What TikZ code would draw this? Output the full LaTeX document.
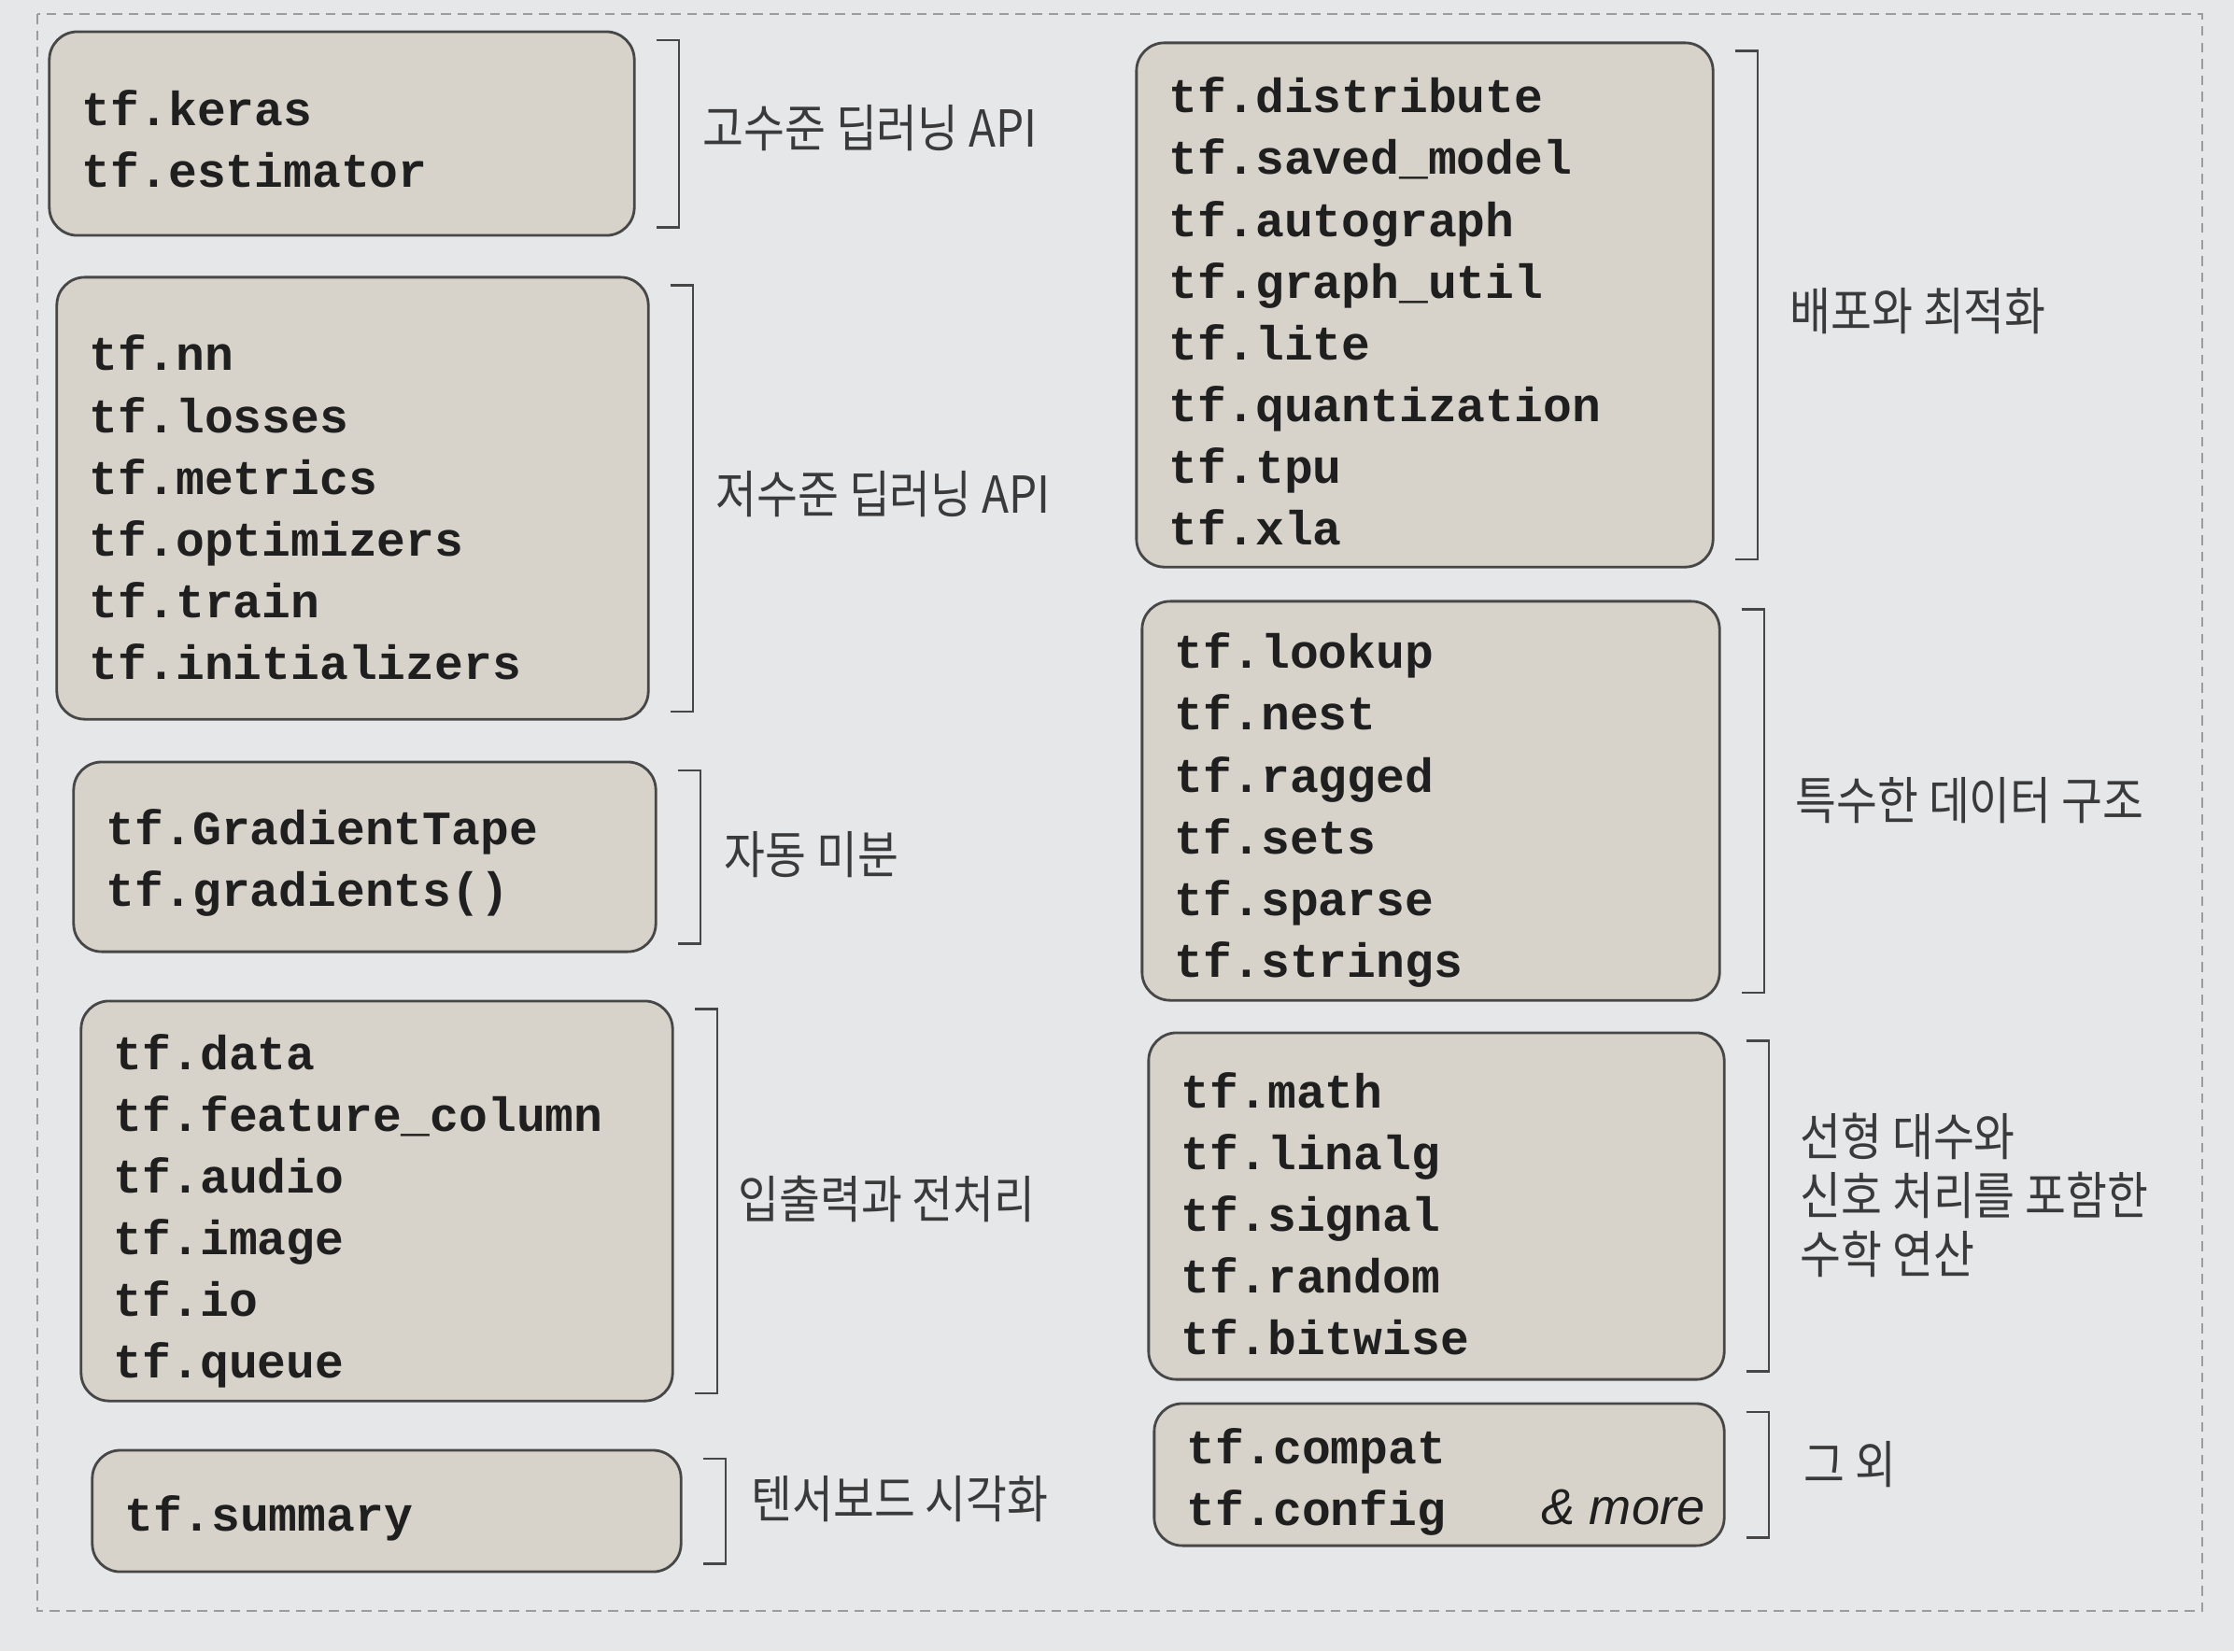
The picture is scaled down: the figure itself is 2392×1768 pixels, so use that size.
\documentclass[tikz,border=0pt]{standalone}
\usepackage{fontspec}
\newfontfamily\codefont{Liberation Mono}
\newfontfamily\krfont[FakeStretch=0.875]{Noto Sans CJK KR}
\newfontfamily\morefont{Liberation Sans}
\definecolor{bg}{HTML}{E5E7E9}
\definecolor{boxfill}{HTML}{D8D3CA}
\definecolor{boxline}{HTML}{474747}
\definecolor{codetext}{HTML}{1F1F1F}
\definecolor{labeltext}{HTML}{3A3A3A}
\definecolor{framecol}{HTML}{9A9C9E}
\tikzset{
  pkg/.style 2 args={draw=boxline, fill=boxfill, rounded corners=0.3cm,
    line width=0.8pt, minimum width=#1cm, minimum height=#2cm, inner sep=0pt},
  code/.style={text width=#1cm, align=left, inner sep=0pt, text=codetext,
    font=\codefont\bfseries\fontsize{14.6}{18.8}\selectfont},
  brk/.style={draw=boxline, line width=0.6pt},
  lbl/.style={anchor=west, inner sep=0pt, text=labeltext, align=left,
    font=\krfont\fontsize{15.5}{17.9}\selectfont},
  framebox/.style={draw=framecol, line width=0.5pt, densely dashed}
}
\begin{document}
\begin{tikzpicture}[x=0.01cm, y=-0.01cm]
\useasboundingbox (0,0) rectangle (2392,1768);
\fill[bg] (0,0) rectangle (2392,1768);
\draw[framebox] (40,15) rectangle (2358,1725);

% left column boxes
\node[pkg={6.26}{2.18}] (b1) at (366,143) {};
\node[pkg={6.33}{4.73}] (b2) at (377.5,533.5) {};
\node[pkg={6.23}{2.03}] (b3) at (390.5,917.5) {};
\node[pkg={6.33}{4.28}] (b4) at (403.5,1286) {};
\node[pkg={6.30}{1.30}] (b5) at (414,1618) {};
% right column boxes
\node[pkg={6.17}{5.61}] (b6) at (1525.5,326.5) {};
\node[pkg={6.18}{4.27}] (b7) at (1532,857.5) {};
\node[pkg={6.16}{3.71}] (b8) at (1538,1291.5) {};
\node[pkg={6.10}{1.52}] (b9) at (1541,1579) {};

% box contents
\node[code=5.56] (t1) at ([yshift=-0.06cm]b1.center) {tf.keras\\tf.estimator};
\node[code=5.63] (t2) at ([yshift=-0.1cm]b2.center) {tf.nn\\tf.losses\\tf.metrics\\tf.optimizers\\tf.train\\tf.initializers};
\node[code=5.53] (t3) at ([yshift=-0.06cm]b3.center) {tf.GradientTape\\tf.gradients()};
\node[code=5.63] (t4) at ([yshift=-0.11cm]b4.center) {tf.data\\tf.feature\_column\\tf.audio\\tf.image\\tf.io\\tf.queue};
\node[code=5.60] (t5) at ([yshift=-0.08cm]b5.center) {tf.summary};
\node[code=5.47] (t6) at ([yshift=-0.07cm]b6.center) {tf.distribute\\tf.saved\_model\\tf.autograph\\tf.graph\_util\\tf.lite\\tf.quantization\\tf.tpu\\tf.xla};
\node[code=5.48] (t7) at ([yshift=-0.1cm]b7.center) {tf.lookup\\tf.nest\\tf.ragged\\tf.sets\\tf.sparse\\tf.strings};
\node[code=5.46] (t8) at ([yshift=-0.08cm]b8.center) {tf.math\\tf.linalg\\tf.signal\\tf.random\\tf.bitwise};
\node[code=5.40] (t9) at ([yshift=-0.08cm]b9.center) {tf.compat\\tf.config};
\node[anchor=east, inner sep=0pt, text=codetext, font=\morefont\itshape\fontsize{15.4}{18}\selectfont] (more) at (1826,1614) {\& more};

% brackets
\foreach \b in {b1,b2,b3,b4,b5,b6,b7,b8,b9}{
  \draw[brk] ([xshift=0.22cm,yshift=-0.1cm]\b.north east) -- ++(0.24cm,0)
    |- ([xshift=0.22cm,yshift=0.1cm]\b.south east);
}

% labels
\node[lbl] (l1) at (752,137) {고수준 딥러닝 API};
\node[lbl] (l2) at (766,529) {저수준 딥러닝 API};
\node[lbl] (l3) at (775,915) {자동 미분};
\node[lbl] (l4) at (790,1284) {입출력과 전처리};
\node[lbl] (l5) at (804,1605) {텐서보드 시각화};
\node[lbl] (r1) at (1916,333) {배포와 최적화};
\node[lbl] (r2) at (1922,857) {특수한 데이터 구조};
\node[lbl] (r3) at (1927,1280) {선형 대수와\\신호 처리를 포함한\\수학 연산};
\node[lbl] (r4) at (1931,1568) {그 외};
\end{tikzpicture}
\end{document}
